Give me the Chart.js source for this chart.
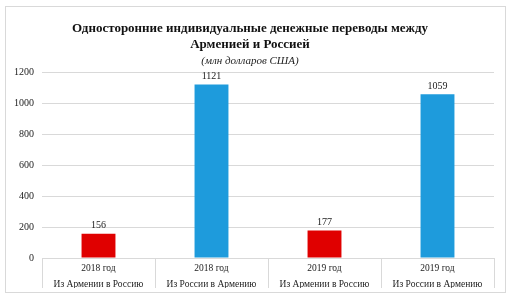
<!DOCTYPE html>
<html>
<head>
<meta charset="utf-8">
<script src="https://cdn.jsdelivr.net/npm/chart.js@4"></script>
<style>
  html, body { margin: 0; padding: 0; background: #fff; }
  #box { position: absolute; left: 5px; top: 6px; width: 499px; height: 285px; border: 1px solid #d9d9d9; }
</style>
</head>
<body>
<div id="box"><canvas id="grafico"></canvas></div>
<script>
// данные с картинки
const years = ['2018 год', '2018 год', '2019 год', '2019 год'];
const directions = ['Из Армении в Россию', 'Из России в Армению', 'Из Армении в Россию', 'Из России в Армению'];
const values = [156, 1121, 177, 1059];
const barColors = ['#e00000', '#1e9bdc', '#e00000', '#1e9bdc'];
const yTicks = [0, 200, 400, 600, 800, 1000, 1200];

const serif = '"Liberation Serif", "Times New Roman", serif';

// подписи значений над столбцами + разделители категорий под осью
const valueLabels = {
    id: 'valueLabels',
    afterDatasetsDraw(chart) {
        const ctx = chart.ctx;
        const meta = chart.getDatasetMeta(0);
        ctx.save();
        ctx.font = '10px ' + serif;
        ctx.fillStyle = '#222';
        ctx.textAlign = 'center';
        ctx.textBaseline = 'bottom';
        meta.data.forEach((bar, i) => {
            ctx.fillText(values[i], bar.x, bar.y - 3);
        });
        // вертикальные линии между подписями
        const x = chart.scales.x;
        const step = (x.right - x.left) / values.length;
        ctx.strokeStyle = '#d9d9d9';
        ctx.lineWidth = 1;
        for (let i = 0; i <= values.length; i++) {
            const px = Math.round(x.left + i * step) + 0.5;
            ctx.beginPath();
            ctx.moveTo(px, x.top);
            ctx.lineTo(px, x.bottom);
            ctx.stroke();
        }
        ctx.restore();
    }
};

const ctx = document.getElementById('grafico').getContext('2d');
new Chart(ctx, {
    type: 'bar',
    data: {
        labels: years.map((y, i) => [y, directions[i]]),
        datasets: [{
            data: values,
            backgroundColor: barColors,
            categoryPercentage: 1,
            barPercentage: 0.3
        }]
    },
    plugins: [valueLabels],
    options: {
        responsive: true,
        maintainAspectRatio: false,
        animation: false,
        layout: { padding: { top: 10, right: 11, left: 0, bottom: 4 } },
        plugins: {
            legend: { display: false },
            tooltip: { enabled: false },
            title: {
                display: true,
                text: ['Односторонние индивидуальные денежные переводы между', 'Арменией и Россией'],
                font: { family: serif, size: 13, weight: 'bold' },
                color: '#111',
                lineHeight: 1.3,
                padding: { top: 4, bottom: 1 }
            },
            subtitle: {
                display: true,
                text: '(млн долларов США)',
                font: { family: serif, size: 11, style: 'italic' },
                color: '#222',
                padding: { top: 1, bottom: 5 }
            }
        },
        scales: {
            x: {
                grid: { display: false },
                border: { color: '#d9d9d9' },
                afterFit(scale) { scale.height = 30; },
                ticks: {
                    padding: -5,
                    font: { family: serif, size: 9.5, lineHeight: 1.68 },
                    color: '#222',
                    maxRotation: 0,
                    autoSkip: false
                }
            },
            y: {
                min: 0,
                max: 1200,
                afterBuildTicks(scale) {
                    scale.ticks = yTicks.map(v => ({ value: v }));
                },
                grid: { color: '#d9d9d9', drawTicks: false },
                border: { display: false },
                ticks: {
                    padding: 8,
                    font: { family: serif, size: 10 },
                    color: '#222',
                    callback: v => String(v)
                }
            }
        }
    }
});
</script>
</body>
</html>
